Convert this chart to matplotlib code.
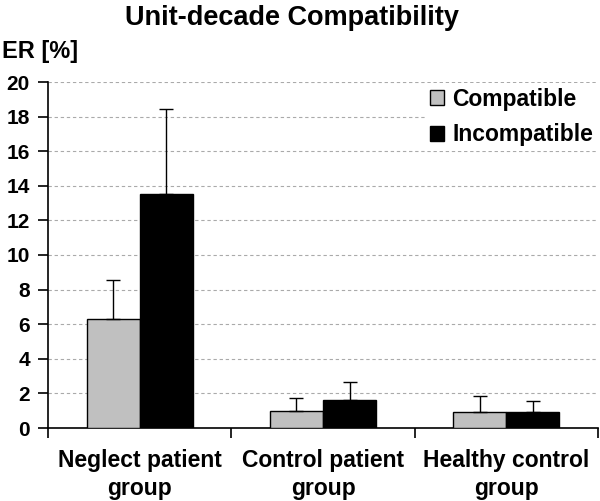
import matplotlib
matplotlib.use("Agg")
import matplotlib.pyplot as plt
import numpy as np

categories = ["Neglect patient\ngroup", "Control patient\ngroup", "Healthy control\ngroup"]
compatible = [6.3, 1.0, 0.9]
compatible_err = [2.25, 0.75, 0.95]
incompatible = [13.5, 1.6, 0.9]
incompatible_err = [4.95, 1.05, 0.68]
yticks = [0, 2, 4, 6, 8, 10, 12, 14, 16, 18, 20]

plt.rcParams['font.family'] = ['Liberation Sans', 'DejaVu Sans']

fig = plt.figure(figsize=(6.0, 5.01), dpi=100)
ax = fig.add_axes([48/600, 73/501, 550/600, 346/501])

x = np.arange(len(categories))
w = 0.29
ax.bar(x - w/2, compatible, w, color="#c0c0c0", edgecolor="black", linewidth=1.0,
       yerr=[np.zeros(3), compatible_err], capsize=5,
       error_kw=dict(elinewidth=1.0, capthick=1.0, ecolor="black"), label="Compatible", zorder=3)
ax.bar(x + w/2, incompatible, w, color="black", edgecolor="black", linewidth=1.0,
       yerr=[np.zeros(3), incompatible_err], capsize=5,
       error_kw=dict(elinewidth=1.0, capthick=1.0, ecolor="black"), label="Incompatible", zorder=3)

ax.set_xlim(-0.5, 2.5)
ax.set_ylim(0, 20)
ax.set_yticks(yticks)
ax.set_yticklabels([str(t) for t in yticks], fontsize=15, fontweight="bold")
for t in yticks[1:]:
    ax.axhline(t, color="#aaaaaa", linestyle=(0, (3, 2.5)), linewidth=0.8, zorder=1)

ax.set_xticks(x)
ax.set_xticklabels(categories, fontsize=16.5, fontweight="bold", linespacing=1.3)
ax.tick_params(axis="x", which="major", length=0, pad=15)
ax.set_xticks([-0.5, 0.5, 1.5, 2.5], minor=True)
ax.tick_params(axis="x", which="minor", length=7, width=1.2, direction="out")
ax.tick_params(axis="y", length=7, width=1.2, direction="out", pad=6)

for s in ["top", "right"]:
    ax.spines[s].set_visible(False)
for s in ["left", "bottom"]:
    ax.spines[s].set_linewidth(1.2)

leg = ax.legend(loc="upper right", bbox_to_anchor=(1.02, 1.03), frameon=True, fancybox=False,
                edgecolor="none", facecolor="white", framealpha=1,
                prop=dict(size=16.5, weight="bold"), handlelength=0.62, handleheight=0.62,
                handletextpad=0.35, labelspacing=0.55, borderpad=0.2)
leg.set_zorder(5)

fig.text(0.487, 0.99, "Unit-decade Compatibility", ha="center", va="top",
         fontsize=19.5, fontweight="bold")
fig.text(0.003, 0.885, "ER [%]", ha="left", va="baseline", fontsize=17, fontweight="bold")

fig.savefig("out.png", dpi=100)
